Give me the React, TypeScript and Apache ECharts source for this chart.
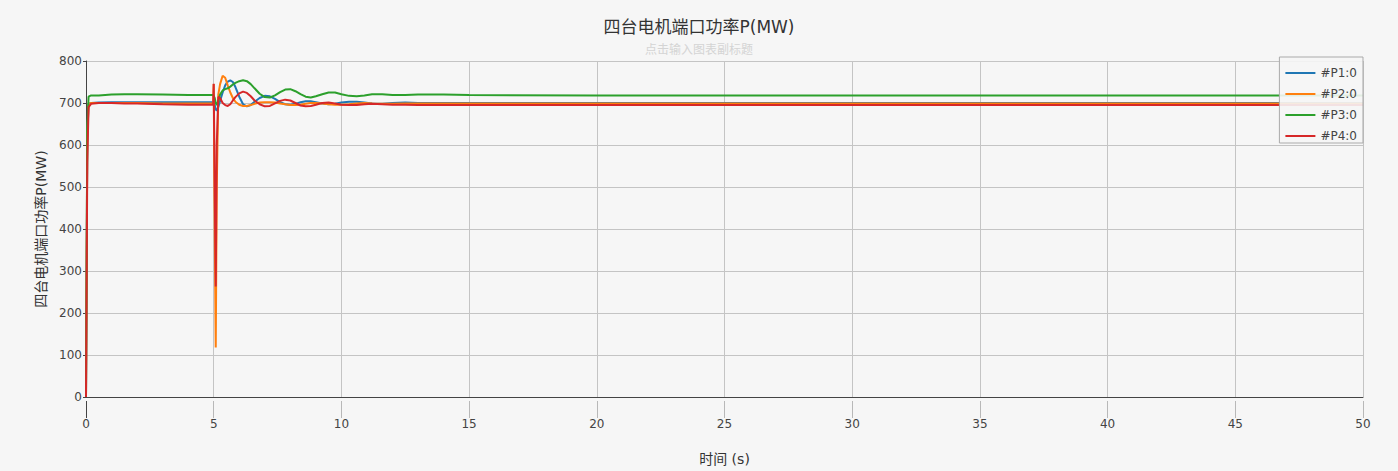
import React, { useEffect, useRef } from "react";
import * as echarts from "echarts";

const titleText = "四台电机端口功率P(MW)";
const subtitleText = "点击输入图表副标题";
const xAxisName = "时间 (s)";
const yAxisName = "四台电机端口功率P(MW)";
const seriesNames = ["#P1:0", "#P2:0", "#P3:0", "#P4:0"];
const seriesColors = ["#1f77b4", "#ff7f0e", "#2ca02c", "#d62728"];

const time = [
  0, 0.05, 0.1, 0.2, 0.5, 1, 1.5, 2, 3, 4, 4.98, 5.0, 5.04, 5.08, 5.12, 5.18, 5.25,
  5.35, 5.45, 5.55, 5.65, 5.75, 5.85, 6.0, 6.15, 6.3, 6.45, 6.6, 6.8, 7.0, 7.2,
  7.4, 7.6, 7.8, 8.0, 8.2, 8.4, 8.6, 8.8, 9.0, 9.25, 9.5, 9.75, 10.0, 10.3,
  10.6, 10.9, 11.2, 11.6, 12.0, 12.5, 13, 14, 15, 20, 30, 40, 50,
];

const p1 = [
  0, 620, 698, 700, 701, 702, 702, 702, 702, 702, 702, 702, 695, 685, 682, 690, 705,
  725, 742, 751, 754, 750, 738, 715, 697, 692, 695, 703, 712, 717, 716,
  710, 702, 697, 696, 698, 702, 704, 704, 702, 699, 697, 698, 701, 703,
  703, 701, 699, 698, 700, 701, 700, 700, 700, 700, 700, 700, 700,
];

const p2 = [
  0, 620, 698, 700, 700, 700, 700, 700, 699, 699, 699, 745, 400, 118, 500, 720, 745,
  765, 760, 742, 725, 712, 703, 696, 693, 693, 695, 698, 701, 702, 702,
  701, 699, 697, 695, 695, 696, 698, 700, 700, 699, 697, 696, 696, 697,
  699, 700, 699, 698, 698, 699, 699, 699, 699, 699, 699, 699, 699,
];

const p3 = [
  0, 640, 715, 718, 718, 720, 721, 721, 720, 719, 719, 719, 712, 700, 695, 705, 720,
  730, 733, 735, 739, 744, 748, 752, 754, 752, 745, 735, 722, 714, 713,
  718, 726, 732, 733, 728, 721, 715, 713, 716, 721, 725, 725, 721, 717,
  716, 718, 721, 721, 719, 719, 720, 720, 719, 718, 718, 718, 718,
];

const p4 = [
  0, 560, 690, 698, 700, 700, 699, 699, 697, 696, 696, 746, 500, 263, 600, 715, 712,
  700, 695, 693, 697, 706, 714, 723, 727, 724, 716, 706, 697, 692, 693,
  699, 705, 708, 706, 700, 694, 692, 693, 696, 700, 701, 699, 696, 695,
  695, 697, 698, 697, 696, 696, 695, 695, 695, 695, 695, 695, 695,
];

const seriesValues = [p1, p2, p3, p4];

const numFont = '"DejaVu Sans", Verdana, sans-serif';
const cjkFont = '"DejaVu Sans", "Noto Sans CJK SC", sans-serif';

const tickColors = ["#444", "#b8b8b8", "#b8b8b8", "#b8b8b8", "#b8b8b8", "#b8b8b8",
  "#b8b8b8", "#b8b8b8", "#b8b8b8", "#b8b8b8", "#b8b8b8"];

export default function App() {
  const ref = useRef<HTMLDivElement>(null);

  useEffect(() => {
    document.body.style.margin = "0";
    if (!ref.current) return;
    const chart = echarts.init(ref.current, undefined, { renderer: "svg" });
    chart.setOption({
      animation: false,
      backgroundColor: "#f6f6f6",
      title: {
        text: titleText,
        subtext: subtitleText,
        left: "center",
        top: 13,
        itemGap: 9,
        textStyle: {
          fontSize: 17,
          fontWeight: "normal",
          color: "#333",
          fontFamily: cjkFont,
        },
        subtextStyle: {
          fontSize: 12,
          color: "#d4d4d4",
          fontFamily: cjkFont,
        },
      },
      legend: {
        orient: "vertical",
        right: 35,
        top: 57,
        padding: [9, 6, 0, 6],
        itemGap: 7,
        itemWidth: 30,
        itemHeight: 2,
        icon: "rect",
        backgroundColor: "rgba(246,246,246,0.9)",
        borderColor: "#aaa",
        borderWidth: 1,
        borderRadius: 0,
        textStyle: { fontSize: 12, color: "#444", fontFamily: numFont, lineHeight: 14 },
        data: seriesNames,
      },
      grid: [
        { left: 86, right: 35, top: 61, bottom: 70, containLabel: false },
        { left: 86, right: 35, top: 401, height: 17, containLabel: false },
      ],
      xAxis: [
        {
          type: "value",
          gridIndex: 0,
          min: 0,
          max: 50,
          interval: 5,
          name: xAxisName,
          nameLocation: "middle",
          nameGap: 55,
          nameTextStyle: { fontSize: 14, color: "#333", fontFamily: cjkFont },
          axisLine: { show: true, onZero: false, lineStyle: { color: "#444", width: 1 } },
          axisTick: { show: false },
          axisLabel: { show: true, margin: 21, fontSize: 12, color: "#444", fontFamily: numFont },
          splitLine: { show: true, lineStyle: { color: "#c4c4c4", width: 1 } },
        },
        {
          type: "value",
          gridIndex: 1,
          min: 0,
          max: 50,
          interval: 5,
          axisLine: { show: false, onZero: false },
          axisTick: { show: false },
          axisLabel: { show: false },
          splitLine: { show: true, lineStyle: { color: tickColors, width: 1 } },
        },
      ],
      yAxis: [
        {
          type: "value",
          gridIndex: 0,
          min: 0,
          max: 800,
          interval: 100,
          name: yAxisName,
          nameLocation: "middle",
          nameGap: 34,
          nameTextStyle: { fontSize: 14, color: "#333", fontFamily: cjkFont },
          axisLine: { show: true, lineStyle: { color: "#444", width: 1 } },
          axisTick: { show: true, length: 3, lineStyle: { color: "#444" } },
          axisLabel: { margin: 4, fontSize: 12, color: "#444", fontFamily: numFont },
          splitLine: { show: true, lineStyle: { color: "#c4c4c4", width: 1 } },
        },
        {
          type: "value",
          gridIndex: 1,
          show: false,
          min: 0,
          max: 1,
        },
      ],
      series: seriesNames.map((name, i) => ({
        name,
        type: "line",
        symbol: "none",
        showSymbol: false,
        xAxisIndex: 0,
        yAxisIndex: 0,
        data: time.map((t, j) => [t, seriesValues[i][j]]),
        lineStyle: { color: seriesColors[i], width: 2 },
        itemStyle: { color: seriesColors[i] },
      })),
    });
    return () => chart.dispose();
  }, []);

  return <div ref={ref} style={{ width: 1398, height: 471 }} />;
}
